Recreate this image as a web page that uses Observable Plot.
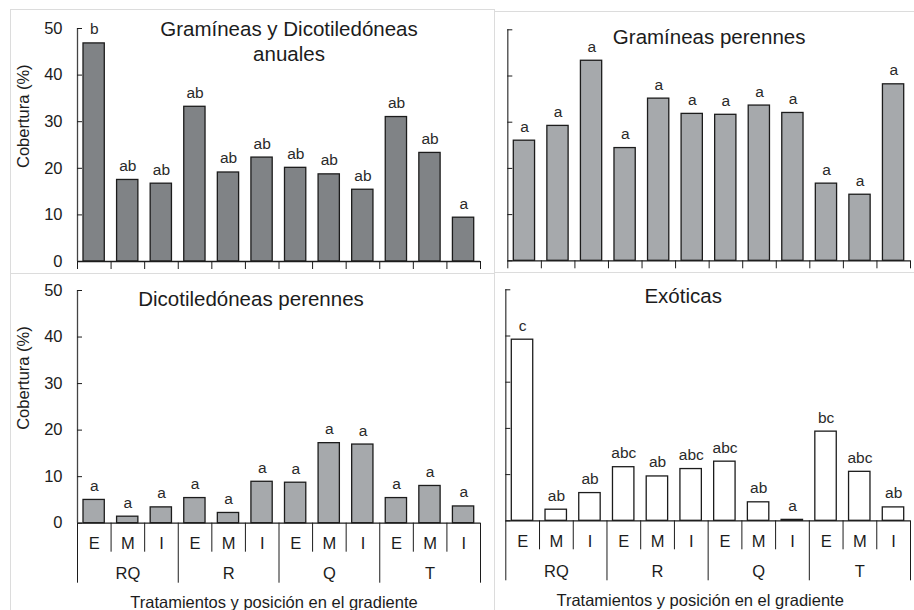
<!DOCTYPE html>
<html>
<head>
<meta charset="utf-8">
<script src="https://cdn.jsdelivr.net/npm/d3@7"></script>
<script src="https://cdn.jsdelivr.net/npm/@observablehq/plot@0.6"></script>
<style>
  body { margin: 0; background: #fff; }
  #fig { position: relative; width: 914px; height: 610px; overflow: hidden; background: #fff;
         font-family: "Liberation Sans", Arial, sans-serif; }
  .frame { position: absolute; box-sizing: border-box; border: 0 solid #dcdcdc; }
</style>
</head>
<body>
<div id="fig">
  <div class="frame" style="left:10px; top:9px; width:485px; height:265px; border-width:1px;"></div>
  <div class="frame" style="left:494px; top:11px; width:440px; height:262px; border-top-width:1px; border-bottom-width:1px;"></div>
  <div class="frame" style="left:10px; top:273px; width:485px; height:360px; border-left-width:1px; border-right-width:1px;"></div>
</div>
<script>
// Position along the gradient (E, M, I) for each treatment group
const positions = ["E", "M", "I", "E", "M", "I", "E", "M", "I", "E", "M", "I"];
const treatments = ["RQ", "R", "Q", "T"];
const yTicks = [0, 10, 20, 30, 40, 50];

// Cover (%) per functional group, with significance letters
const anualesValues  = [46.8, 17.5, 16.7, 33.2, 19.1, 22.3, 20.1, 18.7, 15.4, 31.0, 23.3, 9.4];
const anualesLetters = ["b", "ab", "ab", "ab", "ab", "ab", "ab", "ab", "ab", "ab", "ab", "a"];

const gramPerValues  = [26.0, 29.2, 43.3, 24.4, 35.1, 31.8, 31.6, 33.6, 32.0, 16.7, 14.3, 38.2];
const gramPerLetters = ["a", "a", "a", "a", "a", "a", "a", "a", "a", "a", "a", "a"];

const dicotPerValues  = [5.0, 1.4, 3.4, 5.4, 2.2, 8.9, 8.7, 17.2, 16.9, 5.4, 8.0, 3.6];
const dicotPerLetters = ["a", "a", "a", "a", "a", "a", "a", "a", "a", "a", "a", "a"];

const exoticValues  = [39.2, 2.4, 6.0, 11.6, 9.6, 11.2, 12.8, 4.0, 0.2, 19.3, 10.6, 2.9];
const exoticLetters = ["c", "ab", "ab", "abc", "ab", "abc", "abc", "ab", "a", "bc", "abc", "ab"];

const ink = "#1c1c1c";
const allEdges = d3.range(positions.length + 1);
const groupEdges = allEdges.filter(k => k % 3 === 0);
const innerEdges = allEdges.filter(k => k % 3 !== 0);

function panel(o) {
  const rows = o.values.map((v, i) => ({i, v, letter: o.letters[i], pos: positions[i]}));
  const marks = [
    Plot.rectY(rows, {x1: "i", x2: d => d.i + 1, y: "v", fill: o.fill, stroke: ink, strokeWidth: 1.3,
                      insetLeft: 6, insetRight: 6.3}),
    Plot.text(rows, {x: d => d.i + 0.5, y: "v", text: "letter", dy: -14, fontSize: 15.5, fill: "#2a2a2a"}),
    Plot.ruleY([0], {stroke: ink, strokeWidth: 1.3}),
    Plot.ruleX([0], {stroke: "#444", strokeWidth: 1.3}),
    Plot.axisY(yTicks, {tickSize: -5, fill: "none", stroke: ink, label: null})
  ];
  if (o.yLabels) {
    marks.push(
      Plot.axisY(yTicks, {tickSize: 0, tickPadding: 15, fontSize: 16.5, label: null}),
      Plot.text(["Cobertura (%)"], {frameAnchor: "left", rotate: -90, dx: -54, dy: 23, fontSize: 16.5})
    );
  }
  if (o.bottom) {
    marks.push(
      Plot.axisX(innerEdges, {tickSize: 29, fill: "none", stroke: ink, label: null}),
      Plot.axisX(groupEdges, {tickSize: 60, fill: "none", stroke: ink, label: null}),
      Plot.text(rows, {x: d => d.i + 0.5, text: "pos", frameAnchor: "bottom", lineAnchor: "middle",
                       dy: 20.5, fontSize: 16.5}),
      Plot.text(treatments, {x: (d, k) => 3 * k + 1.5, text: d => d, frameAnchor: "bottom", lineAnchor: "middle",
                             dy: 50.5, fontSize: 16.5}),
      Plot.text(["Tratamientos y posición en el gradiente"], {frameAnchor: "bottom", lineAnchor: "middle",
                                                              dx: o.xTitleDx, dy: 79.5, fontSize: 16.5})
    );
  } else {
    marks.push(Plot.axisX(allEdges, {tickSize: 8, fill: "none", stroke: ink, label: null}));
  }
  marks.push(Plot.text([o.title], {frameAnchor: "top", dx: o.titleDx, dy: o.titleDy, fontSize: 20.5,
                                   lineHeight: 1.2, lineAnchor: "middle"}));

  const svg = Plot.plot({
    width: o.width,
    height: o.height,
    marginLeft: o.margin[3],
    marginRight: o.margin[1],
    marginTop: o.margin[0],
    marginBottom: o.margin[2],
    x: {type: "linear", domain: [0, positions.length]},
    y: {domain: [0, 50]},
    style: {
      position: "absolute", left: o.left + "px", top: o.top + "px",
      background: "transparent", overflow: "visible", color: ink,
      fontFamily: "'Liberation Sans', Arial, sans-serif", fontSize: "16px"
    },
    marks
  });
  document.getElementById("fig").appendChild(svg);
}

panel({
  values: anualesValues, letters: anualesLetters, fill: "#808386",
  title: "Gramíneas y Dicotiledóneas\nanuales", titleDx: 10, titleDy: 12,
  left: 0, top: 0, width: 494, height: 273, margin: [28, 14, 12, 77],
  yLabels: true, bottom: false
});

panel({
  values: gramPerValues, letters: gramPerLetters, fill: "#a6a9ac",
  title: "Gramíneas perennes", titleDx: 0, titleDy: 6,
  left: 494, top: 0, width: 420, height: 273, margin: [29.3, 4, 12.7, 13.3],
  yLabels: false, bottom: false
});

panel({
  values: dicotPerValues, letters: dicotPerLetters, fill: "#a6a9ac",
  title: "Dicotiledóneas perennes", titleDx: -28, titleDy: 8,
  left: 0, top: 273, width: 494, height: 337, margin: [17, 14, 87.3, 77],
  yLabels: true, bottom: true, xTitleDx: -5
});

panel({
  values: exoticValues, letters: exoticLetters, fill: "#ffffff",
  title: "Exóticas", titleDx: -25, titleDy: 5.5,
  left: 494, top: 273, width: 420, height: 337, margin: [16.3, 4, 89.7, 11.3],
  yLabels: false, bottom: true, xTitleDx: -8
});
</script>
</body>
</html>
